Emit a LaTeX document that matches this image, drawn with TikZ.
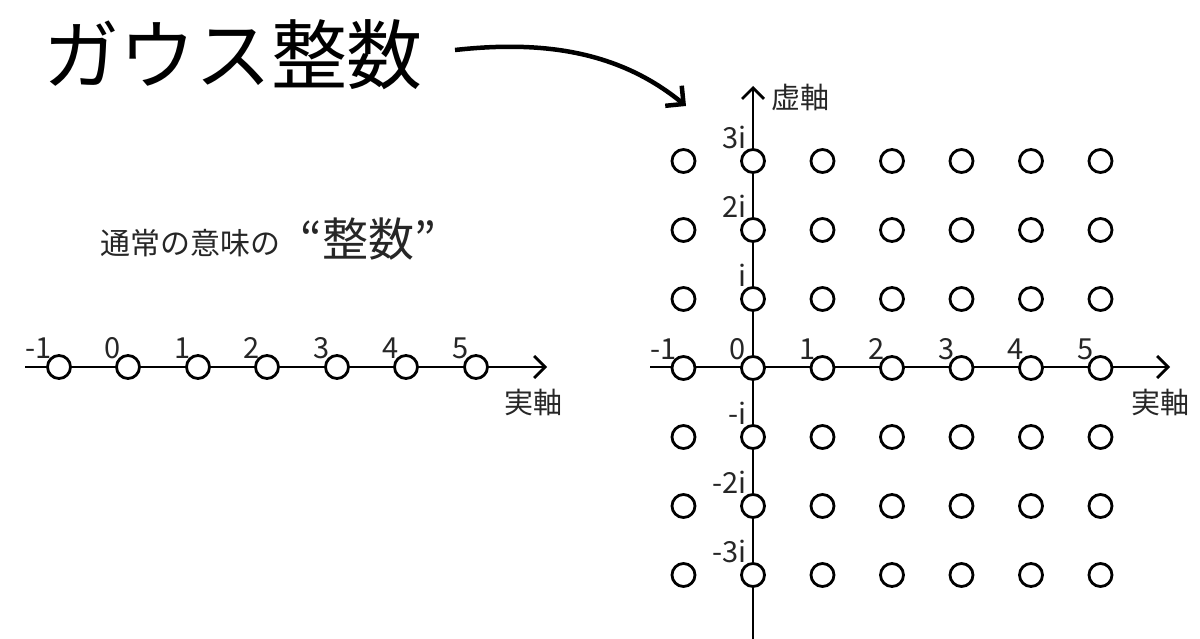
\documentclass[tikz,border=0pt]{standalone}
\usepackage{fontspec}
\setmainfont{Noto Sans CJK JP}
\usetikzlibrary{arrows.meta}
\tikzset{
  dot/.style={circle,draw,fill=white,line width=2.8pt,minimum size=23pt,inner sep=0pt},
  axis/.style={line width=2.8pt,-{Straight Barb[length=11pt,width=22pt]}},
  lbl/.style={font=\fontsize{29}{29}\selectfont,text=black!85,inner sep=0pt},
  axlbl/.style={font=\fontsize{29}{29}\selectfont,text=black!85,inner sep=0pt}
}
\begin{document}
\begin{tikzpicture}[x=1pt,y=-1pt]
\useasboundingbox (0,0) rectangle (1200,639);
% title and arrow
\node[inner sep=0pt,font=\fontsize{76}{76}\selectfont] (title) at (233,55) {ガウス整数};
\coordinate (ta) at (455,50);
\coordinate (tb) at (686,106);
\draw[line width=4.5pt,-{Straight Barb[length=13pt,width=26pt]}] (ta) .. controls (545,40) and (620,52) .. (tb);
% left: ordinary integers
\node[inner sep=0pt,font=\fontsize{30}{30}\selectfont,text=black!85] (norm) at (190,243) {通常の意味の};
\node[inner sep=0pt,font=\fontsize{46}{46}\selectfont,text=black!85] (seisu) at (368,239) {“整数”};
\coordinate (La) at (25,367);
\coordinate (Lb) at (547,367);
\draw[axis] (La) -- (Lb);
\node[axlbl] (Lre) at (533,403) {実軸};
\foreach \n/\x in {0/59,1/128,2/198,3/267,4/337,5/406,6/476}{
  \node[dot] (l\n) at (\x,367) {};
}
\foreach \n/\t in {0/-1,1/0,2/1,3/2,4/3,5/4,6/5}{
  \node[lbl,anchor=south east] (ll\n) at ([xshift=-7pt,yshift=8pt]l\n.center) {\t};
}
% right: Gaussian integers
\coordinate (Ha) at (650,367);
\coordinate (Hb) at (1170,367);
\coordinate (Va) at (753,639);
\coordinate (Vb) at (753,86);
\draw[axis] (Ha) -- (Hb);
\draw[axis] (Va) -- (Vb);
\node[axlbl] (Rre) at (1160,403) {実軸};
\node[axlbl] (Rim) at (800,97) {虚軸};
\foreach \c in {0,...,6}{
  \foreach \r in {0,...,6}{
    \pgfmathsetmacro{\xx}{683.5+69.5*\c}
    \pgfmathsetmacro{\yy}{161+69*\r}
    \node[dot] (g\c\r) at (\xx,\yy) {};
  }
}
% real-axis labels
\foreach \c/\t in {0/-1,1/0,2/1,3/2,4/3,5/4,6/5}{
  \node[lbl,anchor=south east] (hl\c) at ([xshift=-7pt,yshift=8pt]g\c3.center) {\t};
}
% imaginary-axis labels
\foreach \r/\t in {0/3i,1/2i,2/i,4/-i,5/-2i,6/-3i}{
  \node[lbl,anchor=south east] (vl\r) at ([xshift=-6pt,yshift=12pt]g1\r.center) {\t};
}
\end{tikzpicture}
\end{document}
